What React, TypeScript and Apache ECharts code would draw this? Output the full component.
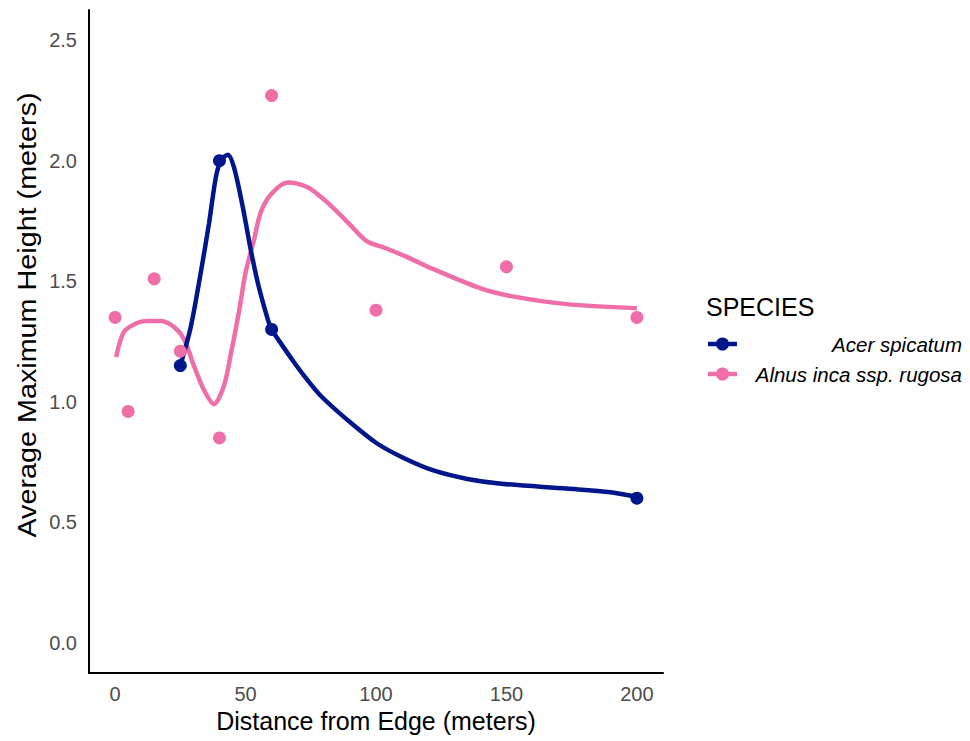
import React, { useEffect, useRef } from "react";
import * as echarts from "echarts";

const xTicks = [0, 50, 100, 150, 200];
const yTicks = [0, 0.5, 1.0, 1.5, 2.0, 2.5];

const acerPoints = [
  [25, 1.15],
  [40, 2.0],
  [60, 1.3],
  [200, 0.6],
];
const alnusPoints = [
  [0, 1.35],
  [5, 0.96],
  [15, 1.51],
  [25, 1.21],
  [40, 0.85],
  [60, 2.27],
  [100, 1.38],
  [150, 1.56],
  [200, 1.35],
];

// smoothed fit curves
const acerCurve = [
  [25, 1.15],
  [29, 1.31],
  [32.9, 1.54],
  [36, 1.74],
  [38.6, 1.93],
  [40.5, 2.0],
  [43.2, 2.025],
  [45.5, 1.975],
  [48.9, 1.81],
  [52, 1.63],
  [55, 1.48],
  [58.5, 1.343],
  [60, 1.3],
  [64, 1.235],
  [68.5, 1.165],
  [73, 1.1],
  [78.8, 1.025],
  [89, 0.925],
  [100, 0.83],
  [110, 0.77],
  [122, 0.715],
  [135, 0.68],
  [148, 0.66],
  [173, 0.64],
  [190, 0.625],
  [200, 0.605],
];
const alnusCurve = [
  [0.4, 1.186],
  [3.4, 1.29],
  [8, 1.325],
  [12, 1.335],
  [17.6, 1.335],
  [22.6, 1.31],
  [26.4, 1.26],
  [30.2, 1.15],
  [34, 1.05],
  [37.9, 0.99],
  [41.7, 1.066],
  [44.4, 1.2],
  [47.4, 1.37],
  [50.1, 1.54],
  [53.2, 1.67],
  [55.8, 1.785],
  [59.7, 1.86],
  [66.2, 1.909],
  [73.8, 1.89],
  [78.8, 1.85],
  [84, 1.8],
  [90, 1.735],
  [96.6, 1.665],
  [103, 1.64],
  [112, 1.6],
  [122, 1.55],
  [141, 1.467],
  [154, 1.434],
  [173, 1.405],
  [200, 1.388],
];

const BLUE = "#00168b";
const PINK = "#ef6ea8";
const FONT = "Liberation Sans, Arial, sans-serif";

export default function App() {
  const ref = useRef<HTMLDivElement>(null);
  useEffect(() => {
    if (!ref.current) return;
    const chart = echarts.init(ref.current, undefined, { renderer: "svg" });
    chart.setOption({
      animation: false,
      backgroundColor: "#ffffff",
      textStyle: { fontFamily: FONT },
      grid: { left: 89, right: 307, top: 10, bottom: 68, containLabel: false },
      xAxis: {
        type: "value",
        min: -10,
        max: 210,
        name: "Distance from Edge (meters)",
        nameLocation: "middle",
        nameGap: 34,
        nameTextStyle: { fontSize: 25, color: "#000", fontFamily: FONT },
        axisLine: { show: true, onZero: false, lineStyle: { color: "#000", width: 2 } },
        axisTick: { show: false },
        splitLine: { show: false },
        axisLabel: {
          customValues: xTicks,
          fontSize: 20,
          color: "#4d4d4d",
          margin: 11,
          fontFamily: FONT,
        },
      },
      yAxis: {
        type: "value",
        min: -0.125,
        max: 2.625,
        axisLine: { show: true, onZero: false, lineStyle: { color: "#000", width: 2 } },
        axisTick: { show: false },
        splitLine: { show: false },
        axisLabel: {
          customValues: yTicks,
          fontSize: 20,
          color: "#4d4d4d",
          margin: 12,
          fontFamily: FONT,
          formatter: (v: number) => v.toFixed(1),
        },
      },
      series: [
        {
          name: "Acer spicatum",
          type: "line",
          data: acerCurve,
          smooth: 0.3,
          showSymbol: false,
          lineStyle: { color: BLUE, width: 4.5 },
          z: 3,
        },
        {
          name: "Alnus inca ssp. rugosa",
          type: "line",
          data: alnusCurve,
          smooth: 0.3,
          showSymbol: false,
          lineStyle: { color: PINK, width: 4.5 },
          z: 2,
        },
        {
          name: "Acer spicatum points",
          type: "scatter",
          data: acerPoints,
          symbolSize: 13,
          itemStyle: { color: BLUE, opacity: 1 },
          z: 4,
        },
        {
          name: "Alnus points",
          type: "scatter",
          data: alnusPoints,
          symbolSize: 13,
          itemStyle: { color: PINK, opacity: 1 },
          z: 4,
        },
      ],
      graphic: [
        {
          type: "text",
          x: 28,
          y: 315,
          rotation: Math.PI / 2,
          scaleX: 1.15,
          style: {
            text: "Average Maximum Height (meters)",
            fontSize: 25,
            fill: "#000",
            fontFamily: FONT,
            align: "center",
            verticalAlign: "middle",
          },
        },
        {
          type: "text",
          x: 706,
          y: 307,
          style: {
            text: "SPECIES",
            fontSize: 25,
            fill: "#000",
            fontFamily: FONT,
            align: "left",
            verticalAlign: "middle",
          },
        },
        {
          type: "line",
          shape: { x1: 708, y1: 344, x2: 737, y2: 344 },
          style: { stroke: BLUE, lineWidth: 4.5 },
        },
        { type: "circle", shape: { cx: 722.5, cy: 344, r: 6.5 }, style: { fill: BLUE } },
        {
          type: "line",
          shape: { x1: 708, y1: 374, x2: 737, y2: 374 },
          style: { stroke: PINK, lineWidth: 4.5 },
        },
        { type: "circle", shape: { cx: 722.5, cy: 374, r: 6.5 }, style: { fill: PINK } },
        {
          type: "text",
          x: 962,
          y: 344,
          style: {
            text: "Acer spicatum",
            fontSize: 20.5,
            fontStyle: "italic",
            fill: "#000",
            fontFamily: FONT,
            align: "right",
            verticalAlign: "middle",
          },
        },
        {
          type: "text",
          x: 962,
          y: 374,
          style: {
            text: "Alnus inca ssp. rugosa",
            fontSize: 20.5,
            fontStyle: "italic",
            fill: "#000",
            fontFamily: FONT,
            align: "right",
            verticalAlign: "middle",
          },
        },
      ],
    });
    return () => chart.dispose();
  }, []);
  return <div ref={ref} style={{ width: 970, height: 741, position: "absolute", left: 0, top: 0 }} />;
}
